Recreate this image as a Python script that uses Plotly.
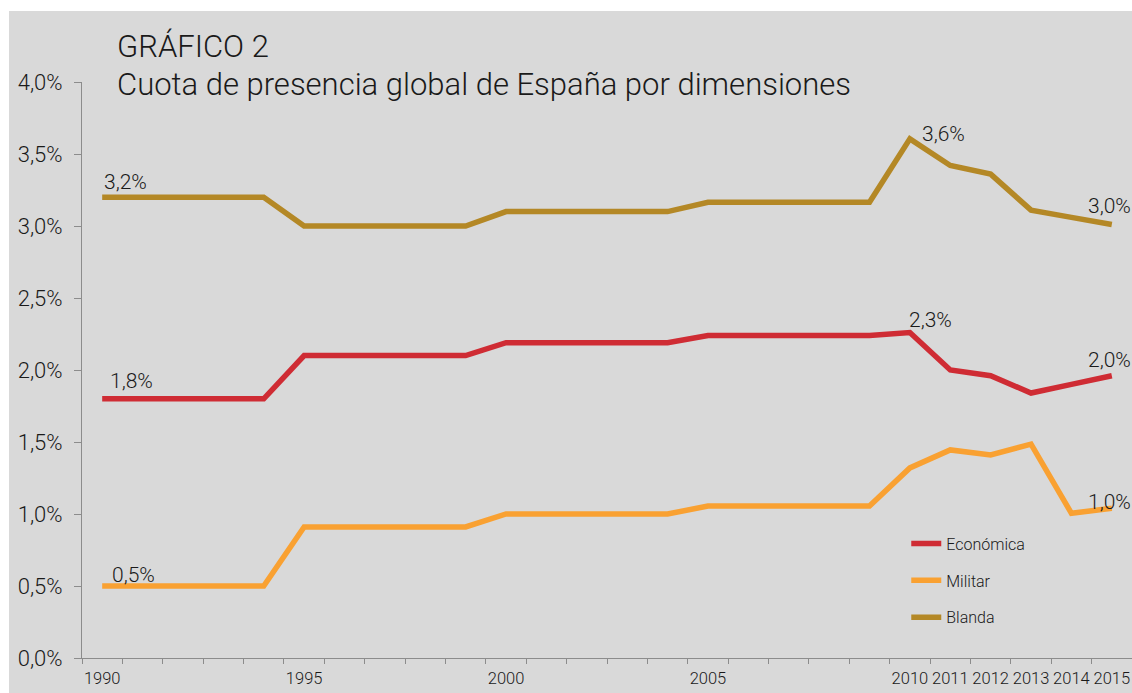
import plotly.graph_objects as go

years = list(range(1990, 2016))
economica = [1.80, 1.80, 1.80, 1.80, 1.80, 2.10, 2.10, 2.10, 2.10, 2.10,
             2.19, 2.19, 2.19, 2.19, 2.19, 2.24, 2.24, 2.24, 2.24, 2.24,
             2.26, 2.00, 1.96, 1.84, 1.90, 1.96]
militar = [0.50, 0.50, 0.50, 0.50, 0.50, 0.91, 0.91, 0.91, 0.91, 0.91,
           1.00, 1.00, 1.00, 1.00, 1.00, 1.055, 1.055, 1.055, 1.055, 1.055,
           1.32, 1.445, 1.41, 1.485, 1.005, 1.04]
blanda = [3.20, 3.20, 3.20, 3.20, 3.20, 3.00, 3.00, 3.00, 3.00, 3.00,
          3.10, 3.10, 3.10, 3.10, 3.10, 3.165, 3.165, 3.165, 3.165, 3.165,
          3.605, 3.42, 3.36, 3.11, 3.06, 3.01]
tick_years = [1990, 1995, 2000, 2005, 2010, 2011, 2012, 2013, 2014, 2015]
y_ticks = [0, 0.5, 1.0, 1.5, 2.0, 2.5, 3.0, 3.5, 4.0]
y_ticktext = ["0,0%", "0,5%", "1,0%", "1,5%", "2,0%", "2,5%", "3,0%", "3,5%", "4,0%"]

names = ["Económica", "Militar", "Blanda"]
colors = ["#cf2c34", "#f9a132", "#b48826"]

FONT = "Roboto, 'Liberation Sans', Arial, sans-serif"
TXT = "#1a1a1a"
BG = "#d9d9d9"

fig = go.Figure()
for i, (nm, vals, col) in enumerate(zip(names, [economica, militar, blanda], colors)):
    fig.add_trace(go.Scatter(x=years, y=vals, mode="lines", name=nm,
                             line=dict(color=col, width=5.5),
                             legendgroup=nm))

# data labels: (series, index, xshift, yshift, xanchor, yanchor)
labels = [
    (blanda, 0, 0, 1, "left", "bottom"),
    (blanda, 20, 10, 5, "left", "middle"),
    (blanda, 25, -2, 5, "center", "bottom"),
    (economica, 0, 6, 4, "left", "bottom"),
    (economica, 20, -3, -1, "left", "bottom"),
    (economica, 25, -2, 2, "center", "bottom"),
    (militar, 0, 8, -3, "left", "bottom"),
    (militar, 25, -2, -8, "center", "bottom"),
]
for vals, idx, xs, ys, xa, ya in labels:
    fig.add_annotation(x=years[idx], y=vals[idx], xref="x", yref="y",
                       text=f"{vals[idx]:.1f}%".replace(".", ","),
                       showarrow=False, xshift=xs, yshift=ys,
                       xanchor=xa, yanchor=ya,
                       font=dict(family=FONT, size=21, color=TXT, weight=300))

# title
fig.add_annotation(x=0.031, y=1.0625, xref="paper", yref="paper",
                   text="GRÁFICO 2", showarrow=False, xanchor="left", yanchor="middle",
                   font=dict(family=FONT, size=31, color=TXT, weight=300))
fig.add_annotation(x=0.031, y=0.9965, xref="paper", yref="paper",
                   text="Cuota de presencia global de España por dimensiones",
                   showarrow=False, xanchor="left", yanchor="middle",
                   font=dict(family=FONT, size=31, color=TXT, weight=300))

# grey panel
fig.add_shape(type="rect", xref="paper", yref="paper",
              x0=(9 - 82) / 1050, x1=1.1, y0=-0.2, y1=(658 - 11) / 576,
              fillcolor=BG, line=dict(width=0), layer="below")

fig.update_layout(
    width=1132, height=693,
    margin=dict(l=82, r=0, t=82, b=35),
    paper_bgcolor="white", plot_bgcolor=BG,
    font=dict(family=FONT, color=TXT, weight=300),
    legend=dict(x=0.785, y=0.228, xanchor="left", yanchor="top",
                bgcolor="rgba(0,0,0,0)", tracegroupgap=13,
                font=dict(family=FONT, size=16, color=TXT, weight=300),
                traceorder="grouped"),
    showlegend=True,
)
fig.update_xaxes(range=[1989.5, 2015.5], tickvals=tick_years,
                 ticktext=[str(y) for y in tick_years],
                 ticks="", showgrid=False, zeroline=False,
                 showline=True, linecolor="#8c8c8c", linewidth=1,
                 ticklabelstandoff=5,
                 tickfont=dict(family=FONT, size=16.5, color=TXT, weight=300),
                 minor=dict(tick0=1989.5, dtick=1, ticks="outside", ticklen=5,
                            tickcolor="#8c8c8c", tickwidth=1, showgrid=False))
fig.update_yaxes(range=[0, 4.0], tickvals=y_ticks, ticktext=y_ticktext,
                 ticks="outside", ticklen=7, tickcolor="#8c8c8c", tickwidth=1,
                 showgrid=False, zeroline=False,
                 showline=True, linecolor="#8c8c8c", linewidth=1,
                 tickfont=dict(family=FONT, size=22, color=TXT, weight=300),
                 ticklabelstandoff=7)

fig.write_html("out.html",
               config={"displayModeBar": False},
               post_script="document.body.style.margin='0';"
                           "document.documentElement.style.overflow='hidden';")
